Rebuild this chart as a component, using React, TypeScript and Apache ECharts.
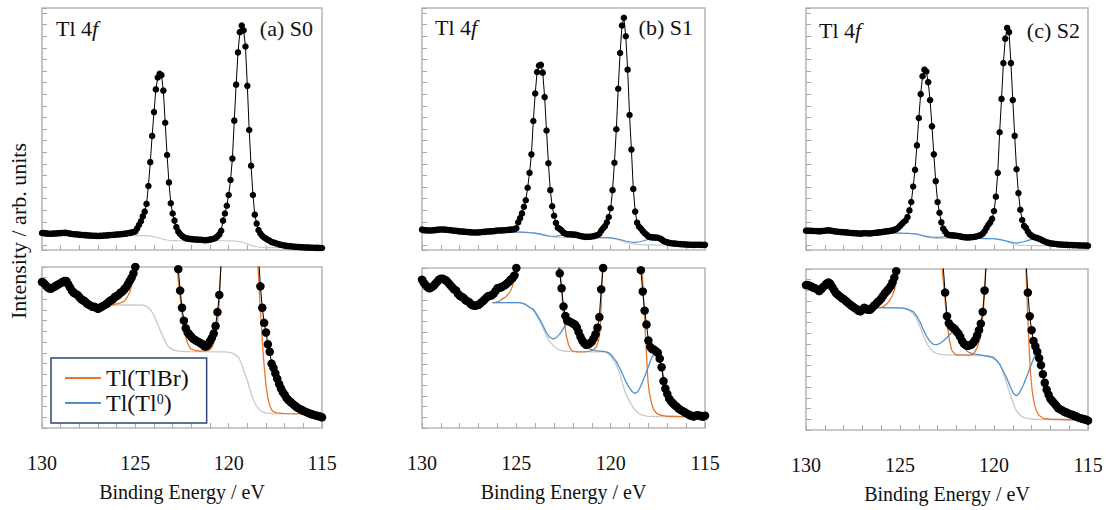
import React, { useEffect, useRef } from 'react';
import * as echarts from 'echarts';

const FONT = 'Liberation Serif';

// ---- axis / label content ----
const ENERGY_START = 130; // first data point (eV)
const ENERGY_STEP = 0.1; // eV step between data points
const X_MIN = 115;
const X_MAX = 130;
const X_LABELS = [130, 125, 120, 115];
const X_TITLE = 'Binding Energy / eV';
const Y_TITLE = 'Intensity / arb. units';
const SAMPLE_NAMES = ['(a) S0', '(b) S1', '(c) S2'];
const LEGEND_NAMES = ['Tl(TlBr)', 'Tl(Tl0)'];

// ---- measured intensities, 130.0 -> 115.0 eV in 0.1 eV steps (arb. units) ----
const S0_DATA = [
  136, 135, 133, 131, 130, 130, 131, 132, 133, 134,
  135, 136, 137, 137, 134, 131, 128, 126, 125, 124,
  122, 120, 119, 118, 116, 115, 114, 113, 113, 112,
  111, 112, 113, 114, 115, 116, 118, 119, 120, 122,
  123, 124, 126, 127, 129, 131, 134, 137, 140, 144,
  150, 175, 205, 235, 275, 315, 380, 530, 730, 950,
  1150, 1340, 1440, 1470, 1460, 1330, 1060, 790, 560, 385,
  300, 240, 185, 148, 128, 112, 100, 93, 89, 87,
  85, 83, 82, 81, 80, 79, 78, 76, 76, 78,
  81, 84, 88, 95, 108, 124, 155, 240, 300, 365,
  455, 580, 760, 1078, 1380, 1650, 1820, 1875, 1835, 1700,
  1370, 1000, 700, 455, 290, 215, 160, 132, 112, 98,
  89, 78, 71, 60, 56, 51, 46, 41, 37, 33.5,
  31, 28, 26, 24.5, 23, 21.5, 20, 18.8, 17.8, 17,
  16, 15.2, 14.5, 13.8, 13, 12.5, 12, 11.5, 11.2, 10.6,
  10,
];
const S1_DATA = [
  139, 136, 134, 132, 131, 132, 133, 135, 137, 139,
  140, 140, 139, 138, 136, 134, 132, 130, 129, 126,
  124, 123, 122, 120, 119, 118, 116, 115, 114.5, 115,
  115.5, 117, 118.5, 120, 122, 123.5, 124, 124.5, 126, 128.5,
  131, 131.5, 132, 133, 134, 135.5, 137, 139, 140.5, 143,
  150, 200, 235, 275, 330, 385, 490, 615, 770, 1050,
  1280, 1460, 1515, 1520, 1455, 1250, 970, 695, 470, 335,
  255, 195, 155, 145, 131, 114, 105, 100.5, 100, 99,
  98, 97, 94.5, 90, 85.5, 82, 79.5, 78, 78.5, 79.5,
  81, 84, 88, 94, 104, 130, 150, 168, 200, 245,
  318, 470, 700, 980, 1320, 1620, 1850, 1915, 1760, 1480,
  1100, 810, 480, 290, 197, 165, 148, 128, 110, 97,
  82, 76, 74, 73.5, 72, 70.5, 65, 57, 44, 37,
  32, 27.5, 25, 23.2, 21.5, 20, 18.2, 17, 16, 15,
  14, 13, 12, 11.5, 10.8, 11.5, 12, 11.8, 11, 10.6,
  11.5,
];
const S2_DATA = [
  135, 135, 134.5, 133.5, 132.5, 132, 131, 129.5, 131, 133,
  134.5, 136.5, 137.5, 136, 133, 130, 127.5, 126, 124.5, 123,
  122, 120.5, 119, 117.5, 116, 115, 113.5, 112.5, 111, 110.5,
  112, 114, 113, 112, 112, 113.5, 115.5, 117, 119, 120.5,
  122.5, 125, 127.5, 129.5, 131.5, 134, 137.5, 142, 148, 160,
  175, 192, 208, 220, 250, 305, 375, 505, 645, 850,
  1080, 1280, 1430, 1485, 1470, 1380, 1230, 1010, 775, 550,
  375, 285, 205, 152, 128, 106, 99.5, 97, 95.5, 94.5,
  92, 90, 87, 83, 80.5, 79, 78.5, 79, 79.5, 81.5,
  84, 88, 93, 99, 110, 130, 158, 185, 205, 235,
  300, 420, 620, 960, 1240, 1540, 1745, 1835, 1800, 1540,
  1230, 930, 650, 450, 310, 225, 175, 158, 128, 106,
  93, 83, 78, 73, 67, 60.5, 52, 44, 37.5, 33,
  29, 27, 25, 23, 20.5, 19.5, 18.5, 17.5, 16.5, 16,
  15, 14.5, 14, 13, 12.5, 11.5, 11, 10.5, 10, 9.5,
  8.7,
];

// ---- fitted curves [eV, intensity] ----
const S0_BG = [[126.3,114.6],[125.0,114.6],[124.6,114.4],[124.4,113.5],[124.2,110.5],[124.0,105],[123.9,100.5],[123.8,96.5],[123.7,92.5],[123.6,88],[123.5,84],[123.4,80.5],[123.3,77.5],[123.2,75.2],[123.0,72.8],[122.7,71.6],[122.2,71.2],[120.2,71.0],[119.9,70.3],[119.7,68.8],[119.5,66.5],[119.4,63.5],[119.3,59],[119.2,54],[119.1,49],[119.0,44.5],[118.9,38],[118.8,32.5],[118.7,27.7],[118.6,23.5],[118.5,20.5],[118.4,18],[118.3,16.5],[118.2,15.2],[118.0,14],[117.6,13.3],[115.5,13.2]];
const S0_TLBR = [[126.3,114.6],[126.1,115.1],[125.9,116],[125.7,117.3],[125.6,118.3],[125.5,120],[125.4,123],[125.3,127],[125.2,133],[125.1,141],[125.0,152],[124.98,190],[122.8,190],[122.76,150],[122.7,138],[122.6,122],[122.5,106],[122.4,94],[122.3,85],[122.2,79],[122.1,75.5],[122.0,73.5],[121.8,72.2],[121.5,71.6],[121.2,71.8],[121.0,73],[120.9,75],[120.8,79],[120.7,86],[120.6,97],[120.5,118],[120.45,140],[120.4,160],[120.38,190],[118.47,190],[118.43,150],[118.35,125],[118.3,110],[118.2,82],[118.1,58],[118.0,40],[117.9,28],[117.8,21],[117.7,17],[117.6,15.2],[117.4,14],[117.0,13.4],[115.5,13.2]];

const S1_BG = [[126.26,117.5],[124.9,117.5],[124.7,117],[124.5,115.5],[124.3,112.8],[124.13,111],[124.0,107.5],[123.78,101],[123.6,94.5],[123.42,87],[123.25,81.5],[123.07,77.8],[122.9,75],[122.71,73.1],[122.5,72.2],[122.0,71.6],[120.4,71.3],[120.23,71],[120.0,67.5],[119.85,63.5],[119.7,59],[119.5,50],[119.35,40.3],[119.2,32],[118.99,24.7],[118.8,19],[118.63,15.3],[118.4,12.5],[118.1,11.2],[117.5,10.7],[115.5,10.5]];
const S1_TLBR = [[126.26,117.5],[126.1,117.8],[125.9,119],[125.7,121.5],[125.55,123.1],[125.4,126],[125.28,129.4],[125.2,133.5],[125.11,138.7],[125.05,145],[125.02,150],[125.0,190],[122.72,190],[122.69,150],[122.6,130],[122.54,115.3],[122.45,99.7],[122.36,87.2],[122.23,77.8],[122.09,73.1],[121.95,71.9],[121.82,71.5],[121.4,71.4],[121.1,72],[120.95,73],[120.76,76],[120.65,82],[120.59,87.2],[120.54,100],[120.5,115.3],[120.47,130],[120.44,150],[120.42,190],[118.36,190],[118.33,150],[118.26,122],[118.19,99.7],[118.1,68.4],[118.02,43.4],[117.95,33],[117.89,27.8],[117.8,21],[117.71,16.9],[117.55,13.5],[117.39,12.2],[117.0,11],[115.5,10.5]];
const S1_TL0 = [[126.26,117.5],[124.9,117.5],[124.7,117.1],[124.5,115.8],[124.3,113.2],[124.13,111.8],[124.0,108.8],[123.78,102.5],[123.6,96.5],[123.42,90],[123.25,85.5],[123.07,83.4],[122.9,84.5],[122.71,87.8],[122.55,92],[122.45,95],[122.3,98],[122.15,99.5],[122.0,99],[121.85,96],[121.7,90],[121.55,83],[121.4,78],[121.29,75.5],[121.1,74],[120.94,73.1],[120.7,72.3],[120.41,71.8],[120.23,71.4],[120.05,70],[119.9,67],[119.7,62.2],[119.5,55.5],[119.35,49.7],[119.2,43.5],[118.99,37.2],[118.85,34],[118.72,32.5],[118.6,33.5],[118.46,37.2],[118.3,43.5],[118.1,52.8],[117.95,60],[117.84,65.3],[117.7,69.5],[117.57,71.5],[117.45,69],[117.35,62],[117.25,53],[117.15,44],[117.05,36],[116.9,29],[116.7,23.5],[116.5,19.5],[116.3,16.5],[116.0,13.5],[115.7,12],[115.5,11.5]];

const S2_BG = [[126.24,114],[125.0,113.7],[124.82,113.4],[124.6,112.3],[124.45,110.8],[124.29,108.3],[124.1,103],[123.94,96.3],[123.76,88],[123.58,80.8],[123.4,76],[123.23,73],[123.05,71.3],[122.87,70.5],[122.52,69.9],[120.3,69.2],[120.04,68.3],[119.85,65],[119.7,61.5],[119.59,57.5],[119.45,50.5],[119.35,45],[119.24,38.9],[119.1,31],[119.0,26],[118.88,20.2],[118.75,16.5],[118.6,13.6],[118.45,11.8],[118.2,10.6],[117.91,10],[115.07,9.3]];
const S2_TLBR = [[126.24,114],[126.0,114.3],[125.89,114.9],[125.7,117.5],[125.53,121.1],[125.4,125.5],[125.27,132],[125.2,138],[125.14,147.5],[125.12,152],[125.1,190],[122.78,190],[122.76,150],[122.68,135],[122.61,122.7],[122.52,104],[122.39,85.4],[122.25,74.5],[122.1,71.2],[121.98,69.9],[121.3,69.8],[121.1,71],[121.01,73],[120.87,78],[120.74,85.4],[120.65,96],[120.57,110.2],[120.52,124],[120.48,138.2],[120.45,150],[120.43,190],[118.33,190],[118.3,150],[118.23,116.5],[118.14,79.2],[118.05,51.2],[117.98,38],[117.91,29.5],[117.82,22],[117.73,17.1],[117.6,13.5],[117.38,10.9],[117.0,10],[115.1,9.3]];
const S2_TL0 = [[126.24,114],[125.0,113.8],[124.82,113.5],[124.6,112.6],[124.45,111.5],[124.29,110.2],[124.1,106],[123.94,100.9],[123.76,93.5],[123.58,86.9],[123.4,82.5],[123.23,79.8],[123.05,79.6],[122.87,80.8],[122.7,83],[122.52,86],[122.35,89],[122.16,92.2],[122.0,93],[121.85,90],[121.7,84],[121.55,77.5],[121.45,73.6],[121.3,72],[121.1,71],[120.9,70.4],[120.74,69.9],[120.4,68.8],[120.04,67.4],[119.85,64.5],[119.68,60.6],[119.5,54.5],[119.32,48.2],[119.15,41],[118.97,34.2],[118.85,32.3],[118.79,32],[118.65,34.5],[118.44,41.9],[118.25,50],[118.09,57.5],[117.95,64],[117.82,69.9],[117.75,71],[117.65,69.5],[117.55,64],[117.45,57],[117.35,49],[117.25,42],[117.15,36],[117.05,31],[116.9,27],[116.7,23],[116.5,19.5],[116.3,17],[116.0,14],[115.7,12],[115.4,10.5]];

const SAMPLES = [
  { data: S0_DATA, bg: S0_BG, tlbr: S0_TLBR, tl0: null as number[][] | null },
  { data: S1_DATA, bg: S1_BG, tlbr: S1_TLBR, tl0: S1_TL0 },
  { data: S2_DATA, bg: S2_BG, tlbr: S2_TLBR, tl0: S2_TL0 },
];

// ---- layout (pixels) ----
const LAYOUT = [
  { left: 42, width: 280, botTop: 267, botH: 161, topMin: -6.5, labelY: 28, coreDx: 14, nameDx: 9 },
  { left: 422, width: 283, botTop: 268, botH: 160, topMin: -32, labelY: 27, coreDx: 13, nameDx: 12 },
  { left: 806, width: 282, botTop: 269, botH: 161, topMin: -27, labelY: 30, coreDx: 13, nameDx: 8 },
];
const TOP_Y = 8;
const TOP_H = 242;
const TOP_SPAN = 2029;
const BOTTOM_MAX = 150;
const Y_TICK_PX = 11.6;
const Y_TICK_OFFSET_PX = 5;

const BORDER = '#b9b9b9';
const TICK = '#a9a9a9';
const ORANGE = '#e8772e';
const BLUE = '#4f91cf';
const GRAY = '#c9c9c9';
const INK = '#111111';

function buildOption() {
  const grid: any[] = [];
  const xAxis: any[] = [];
  const yAxis: any[] = [];
  const series: any[] = [];
  const graphic: any[] = [];

  const hidden = { show: false };
  const tickStyle = { show: true, inside: true, length: 5, lineStyle: { color: TICK, width: 1 } };

  SAMPLES.forEach((s, k) => {
    const L = LAYOUT[k];
    const gTop = 2 * k;
    const gBot = 2 * k + 1;
    const gridBase = { show: true, borderColor: BORDER, borderWidth: 1.6, backgroundColor: 'transparent', containLabel: false, outerBoundsMode: 'none' };
    grid.push({ ...gridBase, left: L.left, top: TOP_Y, width: L.width, height: TOP_H });
    grid.push({ ...gridBase, left: L.left, top: L.botTop, width: L.width, height: L.botH });

    [gTop, gBot].forEach((g) => {
      const isBottom = g === gBot;
      xAxis.push({
        gridIndex: g,
        type: 'value',
        min: X_MIN,
        max: X_MAX,
        inverse: true,
        interval: 1,
        axisLine: { show: false, onZero: false },
        axisTick: tickStyle,
        splitLine: hidden,
        axisLabel: isBottom
          ? {
              show: true,
              margin: 25,
              fontFamily: FONT,
              fontSize: 20,
              color: INK,
              formatter: (v: number) => (X_LABELS.includes(v) ? String(v) : ''),
            }
          : hidden,
        name: isBottom ? X_TITLE : '',
        nameLocation: 'middle',
        nameGap: 54,
        nameTextStyle: { fontFamily: FONT, fontSize: 20, color: INK },
      });
    });

    const yTopData = yAxis.length;
    yAxis.push({
      gridIndex: gTop, type: 'value', position: 'left',
      min: L.topMin, max: L.topMin + TOP_SPAN,
      axisLine: { show: false, onZero: false }, axisTick: hidden, axisLabel: hidden, splitLine: hidden,
    });
    yAxis.push({
      gridIndex: gTop, type: 'value', position: 'left',
      min: -Y_TICK_OFFSET_PX / Y_TICK_PX,
      max: (TOP_H - Y_TICK_OFFSET_PX) / Y_TICK_PX,
      splitNumber: 21, minInterval: 1, maxInterval: 1,
      axisLine: { show: false, onZero: false }, axisTick: tickStyle, axisLabel: hidden, splitLine: hidden,
    });
    const yBot = yAxis.length;
    yAxis.push({
      gridIndex: gBot, type: 'value', position: 'left',
      min: 0, max: BOTTOM_MAX, interval: 10,
      axisLine: { show: false, onZero: false }, axisTick: tickStyle, axisLabel: hidden, splitLine: hidden,
    });

    const pts = s.data.map((v, i) => [Number((ENERGY_START - i * ENERGY_STEP).toFixed(1)), v]);
    const common = { type: 'line', silent: true, animation: false, emphasis: { disabled: true } };
    const dataSeries = (xi: number, yi: number, size: number) => ({
      ...common,
      name: SAMPLE_NAMES[k] + ' data',
      xAxisIndex: xi,
      yAxisIndex: yi,
      data: pts,
      symbol: 'circle',
      symbolSize: size,
      showSymbol: true,
      showAllSymbol: true,
      itemStyle: { color: '#000', borderWidth: 0 },
      lineStyle: { color: '#000', width: 1 },
      z: 5,
    });
    const curve = (name: string, data: number[][], color: string, xi: number, yi: number, width: number, z: number) => ({
      ...common,
      name,
      xAxisIndex: xi,
      yAxisIndex: yi,
      data,
      symbol: 'none',
      showSymbol: false,
      itemStyle: { color },
      lineStyle: { color, width },
      z,
    });

    // top panel
    series.push(curve('Background', s.bg, GRAY, gTop, yTopData, 1.2, 2));
    if (s.tl0) series.push(curve(LEGEND_NAMES[1], s.tl0, BLUE, gTop, yTopData, 1.2, 3));
    series.push(dataSeries(gTop, yTopData, 6.5));
    // bottom panel
    series.push(curve('Background', s.bg, GRAY, gBot, yBot, 1.3, 2));
    series.push(curve(LEGEND_NAMES[0], s.tlbr, ORANGE, gBot, yBot, 1.3, 3));
    if (s.tl0) series.push(curve(LEGEND_NAMES[1], s.tl0, BLUE, gBot, yBot, 1.3, 3));
    series.push(dataSeries(gBot, yBot, 8.5));

    // panel labels
    graphic.push({
      type: 'text',
      x: L.left + L.coreDx,
      y: L.labelY,
      style: {
        text: '{r|Tl 4}{i|f}',
        rich: {
          r: { fontFamily: FONT, fontSize: 22, fill: INK },
          i: { fontFamily: FONT, fontSize: 22, fontStyle: 'italic', fill: INK },
        },
        verticalAlign: 'middle',
        align: 'left',
      },
      z: 10,
    });
    graphic.push({
      type: 'text',
      x: L.left + L.width - L.nameDx,
      y: L.labelY,
      style: { text: SAMPLE_NAMES[k], fontFamily: FONT, fontSize: 22, fill: INK, align: 'right', verticalAlign: 'middle' },
      z: 10,
    });
  });

  graphic.push({
    type: 'text',
    x: 18,
    y: 231,
    rotation: Math.PI / 2,
    style: { text: Y_TITLE, fontFamily: FONT, fontSize: 22, fill: INK, align: 'center', verticalAlign: 'middle' },
    z: 10,
  });

  return {
    animation: false,
    backgroundColor: '#ffffff',
    grid,
    xAxis,
    yAxis,
    series,
    graphic,
    legend: {
      data: LEGEND_NAMES,
      orient: 'vertical',
      left: 51,
      top: 358,
      icon: 'rect',
      itemWidth: 36,
      itemHeight: 2,
      itemGap: 1,
      padding: [8, 18, 8, 14],
      backgroundColor: '#ffffff',
      borderColor: '#2e4677',
      borderWidth: 1.5,
      selectedMode: false,
      formatter: (n: string) => (n === 'Tl(Tl0)' ? 'Tl(Tl{sup|0})' : n),
      textStyle: {
        fontFamily: FONT,
        fontSize: 24,
        color: INK,
        lineHeight: 22,
        rich: { sup: { fontFamily: FONT, fontSize: 14, color: INK, verticalAlign: 'top', lineHeight: 22 } },
      },
    },
  };
}

export default function App() {
  const ref = useRef<HTMLDivElement>(null);
  useEffect(() => {
    if (!ref.current) return;
    const chart = echarts.init(ref.current, undefined, { renderer: 'svg' });
    chart.setOption(buildOption() as any);
    return () => chart.dispose();
  }, []);
  return (
    <div
      ref={ref}
      style={{ position: 'absolute', left: 0, top: 0, width: 1112, height: 510, background: '#fff' }}
    />
  );
}
